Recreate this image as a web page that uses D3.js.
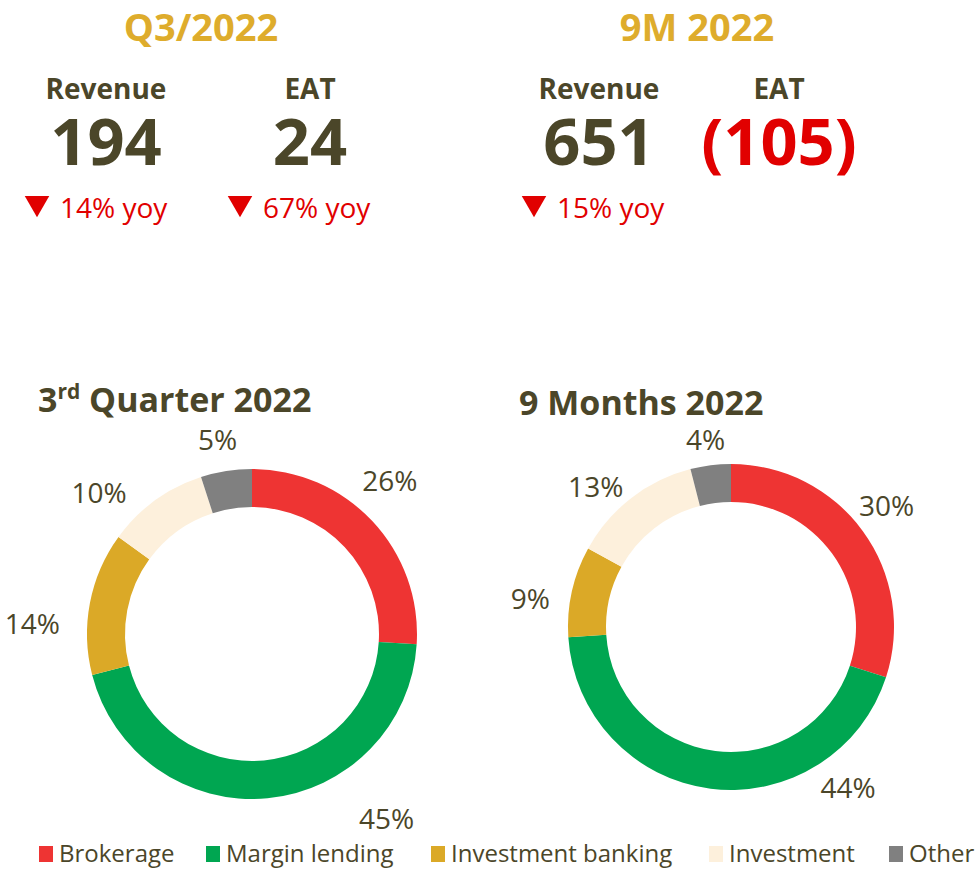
<!DOCTYPE html>
<html>
<head>
<meta charset="utf-8">
<script src="https://cdn.jsdelivr.net/npm/d3@7"></script>
<style>
  body { margin: 0; background: #fff; }
  svg text { font-family: "Open Sans", "Noto Sans", sans-serif; }
</style>
</head>
<body>
<svg width="978" height="869"></svg>
<script>
// segments and shares (%)
var segments = ["Brokerage", "Margin lending", "Investment banking", "Investment", "Other"];
var q3Share = [26, 45, 14, 10, 5];
var nineMShare = [30, 44, 9, 13, 4];
var colors = ["#ee3433", "#00a651", "#dba927", "#fdf0dc", "#808080"];

// headline figures
var periods = ["Q3/2022", "9M 2022"];
var revenue = [194, 651];
var eat = [24, -105];
var revenueYoy = [-14, -15];
var eatYoy = [-67, null];

var dark = "#4b4629", gold = "#deac2c", red = "#e10000";

var svg = d3.select("svg");

// ---- header KPIs ----
var blocks = [
  {title: 201, rev: 106, eat: 310, yoyRev: 25, yoyEat: 228},
  {title: 697, rev: 599, eat: 779, yoyRev: 522, yoyEat: null}
];
var fmt = function(v) { return v < 0 ? "(" + Math.abs(v) + ")" : String(v); };

periods.forEach(function(p, i) {
  var b = blocks[i];
  var g = svg.append("g");
  g.append("text").attr("x", b.title).attr("y", 41).attr("text-anchor", "middle")
    .attr("font-size", 38).attr("font-weight", 700).attr("fill", gold).text(p);
  g.append("text").attr("x", b.rev).attr("y", 99).attr("text-anchor", "middle")
    .attr("font-size", 28).attr("font-weight", 700).attr("fill", dark).text("Revenue");
  g.append("text").attr("x", b.eat).attr("y", 99).attr("text-anchor", "middle")
    .attr("font-size", 28).attr("font-weight", 700).attr("fill", dark).text("EAT");
  g.append("text").attr("x", b.rev).attr("y", 165).attr("text-anchor", "middle")
    .attr("font-size", 65).attr("font-weight", 700).attr("fill", dark).text(fmt(revenue[i]));
  g.append("text").attr("x", b.eat).attr("y", 165).attr("text-anchor", "middle")
    .attr("font-size", 65).attr("font-weight", 700)
    .attr("fill", eat[i] < 0 ? red : dark).text(fmt(eat[i]));

  var yoys = [[revenueYoy[i], b.yoyRev], [eatYoy[i], b.yoyEat]];
  yoys.forEach(function(y) {
    if (y[0] == null) return;
    var x0 = y[1];
    g.append("path")
      .attr("d", d3.symbol().type(d3.symbolTriangle).size(260)())
      .attr("transform", "translate(" + (x0 + 12) + ",203) rotate(180)")
      .attr("fill", red);
    g.append("text").attr("x", x0 + 35).attr("y", 218)
      .attr("font-size", 28).attr("fill", red)
      .text(Math.abs(y[0]) + "% yoy");
  });
});

// ---- donuts ----
var donuts = [
  {data: q3Share, cx: 252, cy: 634, r: 165, rx: 220, ry: 196, shift: -8, bigR: 229,
   titleX: 38, titleY: 412, title: ["3", "rd", " Quarter 2022"]},
  {data: nineMShare, cx: 731, cy: 627, r: 163, rx: 203, ry: 188, shift: -4, bigR: 199,
   titleX: 519, titleY: 415, title: ["9 Months 2022"]}
];
var marginLabelAngle = 144 * Math.PI / 180;  // label for the big slice sits lower right

var pie = d3.pie().sort(null).value(function(d) { return d; });

donuts.forEach(function(dn) {
  var t = svg.append("text").attr("x", dn.titleX).attr("y", dn.titleY)
    .attr("font-size", 34).attr("font-weight", 700).attr("fill", dark);
  if (dn.title.length > 1) {
    t.append("tspan").text(dn.title[0]);
    t.append("tspan").attr("dy", -13).attr("font-size", 21).text(dn.title[1]);
    t.append("tspan").attr("dy", 13).text(dn.title[2]);
  } else {
    t.text(dn.title[0]);
  }

  var arc = d3.arc().innerRadius(dn.r - 38).outerRadius(dn.r);
  var g = svg.append("g").attr("transform", "translate(" + dn.cx + "," + dn.cy + ")");
  var arcs = pie(dn.data);

  g.selectAll("path").data(arcs).enter().append("path")
    .attr("d", arc)
    .attr("fill", function(d, i) { return colors[i]; });

  g.selectAll("text").data(arcs).enter().append("text")
    .attr("transform", function(d, i) {
      var mid = (d.startAngle + d.endAngle) / 2;
      if (i === 1) {
        return "translate(" + (Math.sin(marginLabelAngle) * dn.bigR) + "," +
          (-Math.cos(marginLabelAngle) * dn.bigR) + ")";
      }
      var a = mid + (d.data > 6 ? dn.shift * Math.PI / 180 : 0);
      return "translate(" + (Math.sin(a) * dn.rx) + "," + (-Math.cos(a) * dn.ry) + ")";
    })
    .attr("text-anchor", "middle").attr("dy", "0.35em")
    .attr("font-size", 28).attr("fill", dark)
    .text(function(d) { return d.data + "%"; });
});

// ---- legend ----
var legendX = [39, 206, 431, 709, 889];
var legend = svg.append("g").selectAll("g").data(segments).enter().append("g")
  .attr("transform", function(d, i) { return "translate(" + legendX[i] + ",846)"; });
legend.append("rect").attr("width", 14).attr("height", 16)
  .attr("fill", function(d, i) { return colors[i]; });
legend.append("text").attr("x", 20).attr("y", 16)
  .attr("font-size", 24).attr("fill", dark)
  .attr("font-family", "'Liberation Sans Narrow', 'Open Sans', sans-serif")
  .text(function(d) { return d; });
</script>
</body>
</html>
